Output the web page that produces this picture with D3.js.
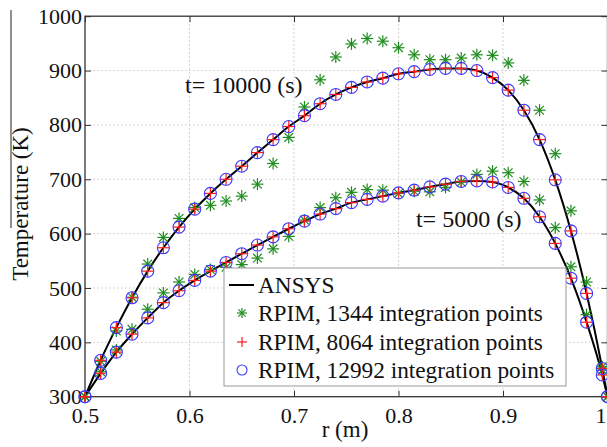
<!DOCTYPE html>
<html><head><meta charset="utf-8">
<script src="https://cdn.jsdelivr.net/npm/d3@7"></script>
<style>body{margin:0;background:#fff}svg{display:block}svg text{font-family:"Liberation Serif","DejaVu Serif",serif !important;fill:#111}</style>
</head><body>
<svg id="c" width="607" height="447"></svg>
<script>
const rVals = [0.5,0.515,0.53,0.545,0.56,0.575,0.59,0.605,0.62,0.635,0.65,0.665,0.68,0.695,0.71,0.725,0.74,0.755,0.77,0.785,0.8,0.815,0.83,0.845,0.86,0.875,0.89,0.905,0.92,0.935,0.95,0.965,0.98,0.995,1.0];
// t = 10000 s
const ansys10000 = [300,367,427,482,531,574,612,645,674,700,724,749,773,797,817,839,856,869,879,886,894,898,902,904,904,900,887,864,827,773,699,605,490,352,300];
const rpim1344_10000 = [300,365,421,483,544,593,628,648,652,660,669,691,729,777,833,883,925,949,959,954,942,929,920,920,923,929,928,914,882,827,747,642,511,355,300];
const rpim8064_10000 = [300,367,427,482,531,574,612,645,674,700,724,749,773,797,817,839,856,869,879,886,894,898,902,904,904,900,887,864,827,773,699,605,490,352,300];
const rpim12992_10000 = [300,367,427,482,531,574,612,645,674,700,724,749,773,797,817,839,856,869,879,886,894,898,902,904,904,900,887,864,827,773,699,605,490,352,300];
// t = 5000 s
const ansys5000 = [300,343,382,415,445,473,495,514,531,547,563,579,594,609,623,636,646,657,663,669,675,680,686,691,696,697,695,685,665,631,582,518,437,340,300];
const rpim1344_5000 = [300,346,386,424,461,491,511,525,534,538,543,555,572,595,625,648,666,676,681,680,674,678,677,685,695,709,715,712,696,662,611,539,451,349,300];
const rpim8064_5000 = [300,343,382,415,445,473,495,514,531,547,563,579,594,609,623,636,646,657,663,669,675,680,686,691,696,697,695,685,665,631,582,518,437,340,300];
const rpim12992_5000 = [300,343,382,415,445,473,495,514,531,547,563,579,594,609,623,636,646,657,663,669,675,680,686,691,696,697,695,685,665,631,582,518,437,340,300];
const xTicks = [0.5,0.6,0.7,0.8,0.9,1.0];
const xTickLabels = ["0.5","0.6","0.7","0.8","0.9","1"];
const yTicks = [300,400,500,600,700,800,900,1000];
const legendLabels = ["ANSYS","RPIM, 1344 integration points","RPIM, 8064 integration points","RPIM, 12992 integration points"];
const annotations = [{text:"t= 10000 (s)", r:0.5957, T:858},{text:"t= 5000 (s)", r:0.8167, T:612}];

const FONT = "'Liberation Serif','DejaVu Serif',serif";
const svg = d3.select("#c");
const L=85, R=607.5, T=16.2, B=396.7;
const x = d3.scaleLinear().domain([0.5,1.0]).range([L,R]);
const y = d3.scaleLinear().domain([300,1000]).range([B,T]);

// grid
const g = svg.append("g");
g.selectAll(".gx").data(xTicks.slice(1,-1)).join("line")
  .attr("x1",d=>x(d)).attr("x2",d=>x(d)).attr("y1",T).attr("y2",B)
  .attr("stroke","#c8c8c8").attr("stroke-width",1).attr("stroke-dasharray","1.5,2.5");
g.selectAll(".gy").data(yTicks.slice(1,-1)).join("line")
  .attr("x1",L).attr("x2",R).attr("y1",d=>y(d)).attr("y2",d=>y(d))
  .attr("stroke","#c8c8c8").attr("stroke-width",1).attr("stroke-dasharray","1.5,2.5");

// axes
const xAxis = d3.axisBottom(x).tickValues(xTicks).tickFormat((d,i)=>xTickLabels[i]).tickSizeInner(-6).tickSizeOuter(0).tickPadding(11);
const yAxis = d3.axisLeft(y).tickValues(yTicks).tickFormat(d3.format("d")).tickSizeInner(-6).tickSizeOuter(0).tickPadding(3);
const gx = svg.append("g").attr("transform",`translate(0,${B})`).call(xAxis);
const gy = svg.append("g").attr("transform",`translate(${L},0)`).call(yAxis);
[gx,gy].forEach(a=>{a.attr("font-family",FONT);a.select(".domain").remove();a.selectAll("line").attr("stroke","#333");a.selectAll("text").style("font-family",FONT).attr("font-size",22).attr("fill","#111");});
gx.selectAll("text").attr("dy","0.71em");
gx.selectAll("text").filter((d,i)=>i===xTicks.length-1).attr("text-anchor","end").attr("dx",-1.5);
// top/right ticks
svg.append("g").attr("transform",`translate(0,${T})`).call(d3.axisTop(x).tickValues(xTicks).tickSizeInner(-6).tickSizeOuter(0).tickFormat(""))
  .call(a=>{a.select(".domain").remove();a.selectAll("line").attr("stroke","#333");});
svg.append("g").attr("transform",`translate(${R},0)`).call(d3.axisRight(y).tickValues(yTicks).tickSizeInner(-6).tickSizeOuter(0).tickFormat(""))
  .call(a=>{a.select(".domain").remove();a.selectAll("line").attr("stroke","#333");});
// box
svg.append("rect").attr("x",L).attr("y",T).attr("width",R-L).attr("height",B-T).attr("fill","none").attr("stroke","#333").attr("stroke-width",1.3);

// lines
const line = d3.line().x((d,i)=>x(rVals[i])).y(d=>y(d)).curve(d3.curveMonotoneX);
[ansys10000, ansys5000].forEach(arr=>{
  svg.append("path").attr("d",line(arr)).attr("fill","none").attr("stroke","#000").attr("stroke-width",2);
});

function star(sel, cx, cy, s){
  const gg = sel.append("g").attr("stroke","#1e8c1e").attr("stroke-width",1.2);
  gg.append("line").attr("x1",cx-s).attr("x2",cx+s).attr("y1",cy).attr("y2",cy);
  gg.append("line").attr("x1",cx).attr("x2",cx).attr("y1",cy-s).attr("y2",cy+s);
  const d=s*0.72;
  gg.append("line").attr("x1",cx-d).attr("x2",cx+d).attr("y1",cy-d).attr("y2",cy+d);
  gg.append("line").attr("x1",cx-d).attr("x2",cx+d).attr("y1",cy+d).attr("y2",cy-d);
}
function plus(sel,cx,cy,s){
  const gg = sel.append("g").attr("stroke","#ff1a1a").attr("stroke-width",1.2);
  gg.append("line").attr("x1",cx-s).attr("x2",cx+s).attr("y1",cy).attr("y2",cy);
  gg.append("line").attr("x1",cx).attr("x2",cx).attr("y1",cy-s).attr("y2",cy+s);
}
function circ(sel,cx,cy,r){
  sel.append("circle").attr("cx",cx).attr("cy",cy).attr("r",r).attr("fill","none").attr("stroke","#3a3aff").attr("stroke-width",1.1);
}
const mk = svg.append("g");
[rpim1344_10000, rpim1344_5000].forEach(arr=>arr.forEach((v,i)=>star(mk,x(rVals[i]),y(v),6)));
[rpim8064_10000, rpim8064_5000].forEach(arr=>arr.forEach((v,i)=>plus(mk,x(rVals[i]),y(v),6)));
[rpim12992_10000, rpim12992_5000].forEach(arr=>arr.forEach((v,i)=>circ(mk,x(rVals[i]),y(v),6)));

function txt(sel,fs){ return sel.append("text").style("font-family",FONT).attr("font-size",fs||22).attr("fill","#111"); }
// annotations
annotations.forEach(a=>txt(svg,24).attr("x",x(a.r)).attr("y",y(a.T)).text(a.text));

// legend
const lg = svg.append("g");
lg.append("rect").attr("x",224).attr("y",268).attr("width",342).attr("height",118).attr("fill","#fff").attr("stroke","#999").attr("stroke-width",1);
const ly = [285,313,342,370];
lg.append("line").attr("x1",229).attr("x2",254).attr("y1",ly[0]).attr("y2",ly[0]).attr("stroke","#000").attr("stroke-width",2);
star(lg,242,ly[1],5); plus(lg,242,ly[2],5); circ(lg,242,ly[3],5);
legendLabels.forEach((t,i)=>txt(lg,23.3).attr("x",258).attr("y",ly[i]).attr("dy","0.35em").text(t));

// axis labels
txt(svg,23).attr("x",345).attr("y",437).attr("text-anchor","middle").text("r (m)");
txt(svg,23).attr("transform","translate(28,204) rotate(-90)").attr("text-anchor","middle").text("Temperature (K)");
svg.append("line").attr("x1",11).attr("x2",11).attr("y1",10).attr("y2",228).attr("stroke","#222").attr("stroke-width",1);
</script>
</body></html>
